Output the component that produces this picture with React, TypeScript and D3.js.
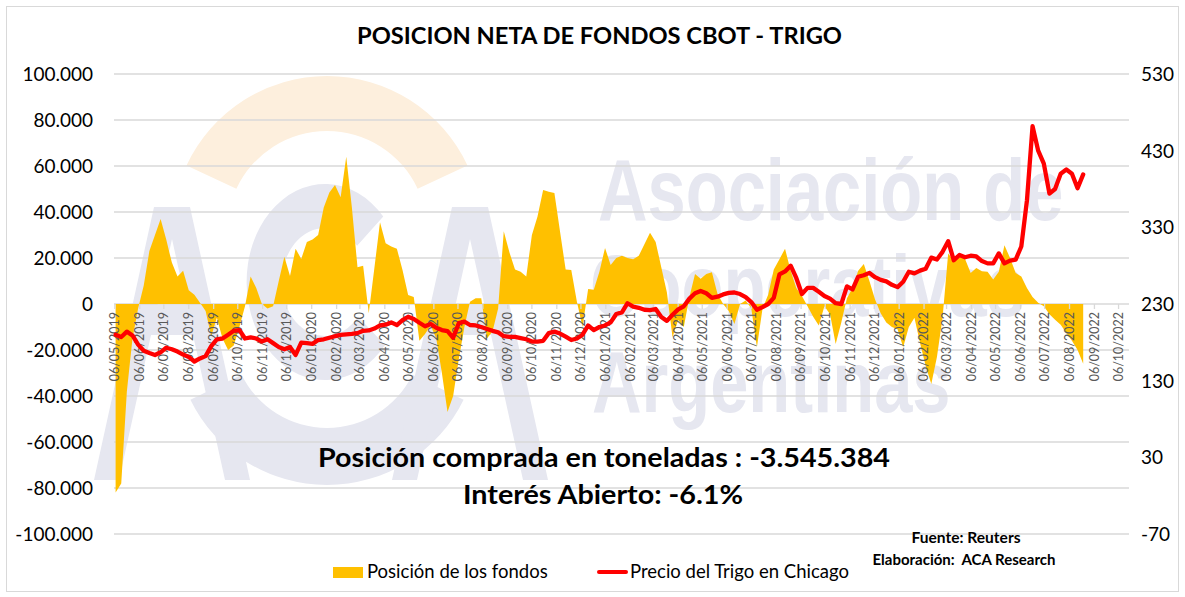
import * as d3 from "d3";

// net position of funds, thousands of contracts, weekly from 07/05/2019
const fundsK = [
  -82, -78, -38, -15, -2, 8, 23, 30, 37, 28,
  18, 12, 14.5, 6, 4, 0.5, -3, -14, -6, -15,
  -20, -18, -10, -1, 12, 7, 0, -2, -1, 10,
  20.5, 12.2, 24, 19.6, 27, 28, 30, 42, 48.5, 51.7,
  46.4, 64, 42, 16, 16.6, -4, 15.7, 35.5, 26.4, 25,
  24, 14.8, 3.9, 3, -16, -13, -9.4, -15, -30, -47,
  -40, -24, -10, 1, 2.5, 2.5, -15, -12, -2, 31.6,
  22.5, 15, 14, 12, 30, 38, 49.6, 48.8, 48.3, 31.5,
  15, 14.8, 1, -10, 6.5, 6.2, 14, 24.4, 17, 20,
  21, 20, 19.5, 21, 26, 31, 27, 16, 5, -14.5,
  -7, -10, 3, 13, 11, 13, 13.8, 4.3, 0, -3,
  -8.7, 0, 1.5, -2, -18.8, -2, 4, 15, 19.5, 24,
  14.5, 7, 3.5, -1, -5.5, -9.4, -1, -4.5, -17.4, -8,
  2.5, 7, 14.5, 17.4, 10, 2, -4, -8, -10, -11,
  -18.8, -10, -6, -17, -27, -34.8, -23, -6, 22, 18.8,
  21, 19.6, 13.5, 15.6, 14.2, 14, 10.6, 14, 25.5, 20,
  13.5, 12, 7, 3, 0.5, -1, -4.5, -6.8, -9, -12.6,
  -16, -20, -26,
];

// wheat price Chicago, weekly
const wheatPrice = [
  190, 187, 194, 189, 177, 169, 166, 163.5, 167, 173,
  171, 168, 164, 161, 155, 159, 162, 175, 184, 185,
  190, 195, 196, 185, 186.5, 185, 181, 184, 179, 174,
  171, 174, 163.5, 179.6, 179, 178, 183, 184, 186, 188,
  189.6, 190.5, 191, 192, 195, 195.5, 198, 202, 203, 206,
  202.6, 209, 213.4, 210.5, 205.5, 201, 204, 199, 196, 194.5,
  186, 205, 207, 202.6, 202, 200, 197.5, 195, 193, 188,
  187, 187, 185.5, 184, 181, 181, 182, 192, 194, 191.5,
  187.5, 183, 185, 190, 202, 196, 200, 202, 206, 217,
  219, 231, 226.5, 225, 222.5, 222, 223.5, 213, 208, 216,
  223, 227, 237, 244, 247, 244, 238, 239.5, 242.5, 244.5,
  245, 243, 239, 232.5, 222.5, 226, 230, 238, 268.5, 272.5,
  280, 264, 243, 251, 251, 246, 240.5, 237, 231, 230,
  253, 249, 265.6, 267.5, 270.6, 265, 261.5, 259.5, 255, 252,
  259, 272, 270, 273.5, 276, 290.5, 288, 298, 312, 287,
  294, 291, 293, 292, 286, 283, 283, 296, 283, 286.5,
  288, 305, 365, 462, 430, 413, 374, 380, 400, 405.5,
  400, 381, 399,
];

const leftTicks = [100000, 80000, 60000, 40000, 20000, 0, -20000, -40000, -60000, -80000, -100000];
const rightTicks = [530, 430, 330, 230, 130, 30, -70];

const firstDate = new Date(2019, 4, 7);
const dates = fundsK.map((_, i) => d3.timeDay.offset(firstDate, 7 * i));
const monthTicks = d3
  .timeMonth.range(new Date(2019, 4, 1), new Date(2022, 10, 1))
  .map((m) => d3.timeDay.offset(m, 5));

const W = 1185;
const H = 597;
const plot = { left: 114, right: 1129, top: 74, bottom: 534 };

const locale = d3.formatLocale({
  decimal: ",",
  thousands: ".",
  grouping: [3],
  currency: ["", ""],
  minus: "-",
});
const fmtLeft = locale.format(",");
const fmtDate = d3.timeFormat("%d/%m/%Y");

const FONT = "Lato, 'Open Sans', sans-serif";

const App = () => {
  const x = d3
    .scaleTime()
    .domain([new Date(2019, 4, 5), new Date(2022, 9, 19)])
    .range([plot.left, plot.right]);
  const yL = d3.scaleLinear().domain([-100000, 100000]).range([plot.bottom, plot.top]);
  const yR = d3.scaleLinear().domain([-70, 530]).range([plot.bottom, plot.top]);

  const area = d3
    .area<number>()
    .x((_, i) => x(dates[i]))
    .y0(yL(0))
    .y1((d) => yL(d * 1000));
  const line = d3
    .line<number>()
    .x((_, i) => x(dates[i]))
    .y((d) => yR(d));

  const y0 = yL(0);

  // watermark (ACA logo)
  const orangeArc = d3.arc()({
    innerRadius: 100,
    outerRadius: 155,
    startAngle: (-65 * Math.PI) / 180,
    endAngle: (65 * Math.PI) / 180,
  } as any);
  const blueArc = d3.arc()({
    innerRadius: 95,
    outerRadius: 152,
    startAngle: (116 * Math.PI) / 180,
    endAngle: (244 * Math.PI) / 180,
  } as any);
  const cArc = d3.arc()({
    innerRadius: 54,
    outerRadius: 98,
    startAngle: (130 * Math.PI) / 180,
    endAngle: (408 * Math.PI) / 180,
  } as any);
  const aLetter =
    "M154,207 L190,207 L250,480 L225,480 L193,335 L151,335 L119,480 L94,480 Z M172,239 L186.5,305 L157.5,305 Z";
  const wm = "#e6e7f0";

  return (
    <svg
      width={W}
      height={H}
      style={{ position: "absolute", left: 0, top: 0, background: "#fff" }}
      fontFamily={FONT}
    >
      <rect x={6.5} y={6.5} width={1172} height={585} fill="#fff" stroke="#d9d9d9" />

      {/* watermark */}
      <g>
        <path d={orangeArc!} transform="translate(327,231)" fill="#fdefdd" />
        <path d={blueArc!} transform="translate(327,333)" fill={wm} />
        <path d={cArc!} transform="translate(325,282) scale(0.8,1)" fill={wm} />
        <path d={aLetter} fill={wm} fillRule="evenodd" />
        <path d={aLetter} transform="translate(298,0)" fill={wm} fillRule="evenodd" />
        <g fontFamily="'Liberation Sans', Arial, sans-serif" fontWeight="bold" fontSize={88} fill={wm}>
          <text transform="translate(598,220) scale(0.78,1)">Asociación de</text>
          <text transform="translate(590,316) scale(0.78,1)">Cooperativas</text>
          <text transform="translate(592,412) scale(0.78,1)">Argentinas</text>
        </g>
      </g>

      {/* gridlines */}
      {leftTicks.map((t) => (
        <line key={t} x1={plot.left} x2={plot.right} y1={yL(t)} y2={yL(t)} stroke="#d9d9d9" strokeWidth={1.3} />
      ))}

      {/* funds area */}
      <path d={area(fundsK)!} fill="#ffc000" />

      {/* x ticks and labels */}
      {monthTicks.map((m) => (
        <g key={m.getTime()}>
          <line x1={x(m)} x2={x(m)} y1={y0} y2={y0 + 5} stroke="#d9d9d9" strokeWidth={1.3} />
          <text
            transform={`translate(${x(m)},${y0 + 8}) rotate(-90)`}
            textAnchor="end"
            dy="0.35em"
            fontSize={12.5}
            fill="#595959"
          >
            {fmtDate(m)}
          </text>
        </g>
      ))}

      {/* wheat price line */}
      <path
        d={line(wheatPrice)!}
        fill="none"
        stroke="#ff0000"
        strokeWidth={4.3}
        strokeLinejoin="round"
        strokeLinecap="round"
      />

      {/* axes labels */}
      {leftTicks.map((t) => (
        <text key={t} x={93} y={yL(t)} dy="0.36em" textAnchor="end" fontSize={19} fill="#000">
          {fmtLeft(t)}
        </text>
      ))}
      {rightTicks.map((t) => (
        <text key={t} x={1141} y={yR(t)} dy="0.36em" textAnchor="start" fontSize={19} fill="#000">
          {t}
        </text>
      ))}

      {/* title */}
      <text x={357} y={44} fontSize={23} fontWeight="bold" textLength={485} lengthAdjust="spacingAndGlyphs">
        POSICION NETA DE FONDOS CBOT - TRIGO
      </text>

      {/* annotations */}
      <text x={318} y={467} fontSize={26} fontWeight="bold" textLength={572} lengthAdjust="spacingAndGlyphs">
        Posición comprada en toneladas : -3.545.384
      </text>
      <text x={463} y={504} fontSize={26} fontWeight="bold" textLength={280} lengthAdjust="spacingAndGlyphs">
        Interés Abierto: -6.1%
      </text>
      <text x={966} y={543} fontSize={15} fontWeight="bold" textAnchor="middle" textLength={109} lengthAdjust="spacingAndGlyphs">
        Fuente: Reuters
      </text>
      <text x={964} y={565} fontSize={15} fontWeight="bold" textAnchor="middle" textLength={183} lengthAdjust="spacingAndGlyphs" xmlSpace="preserve">
        Elaboración:  ACA Research
      </text>

      {/* legend */}
      <rect x={333} y={567} width={30} height={11} fill="#ffc000" />
      <text x={367} y={578} fontSize={18.5} fill="#000">
        Posición de los fondos
      </text>
      <line x1={599} x2={626} y1={572} y2={572} stroke="#ff0000" strokeWidth={4} strokeLinecap="round" />
      <text x={630} y={578} fontSize={18.5} fill="#000">
        Precio del Trigo en Chicago
      </text>
    </svg>
  );
};

export default App;
